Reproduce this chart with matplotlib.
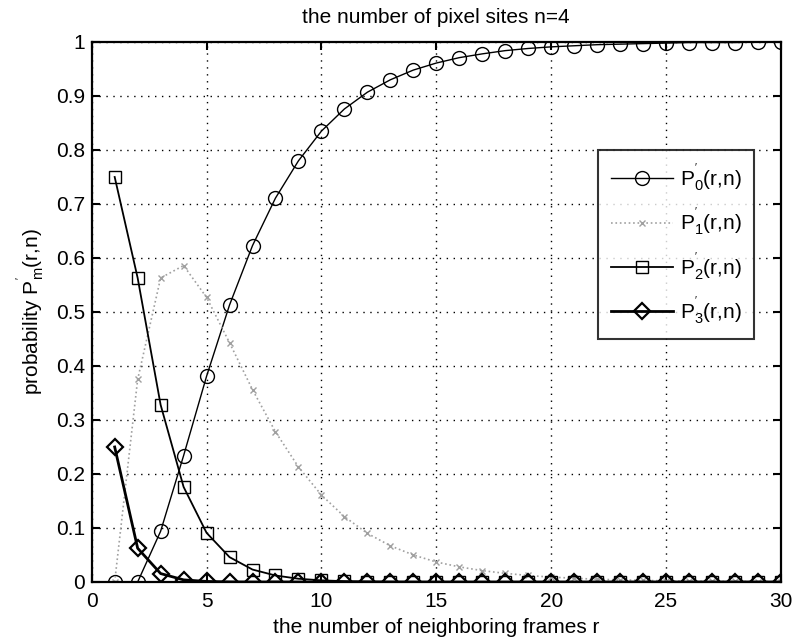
import matplotlib
matplotlib.use('Agg')
import matplotlib.pyplot as plt

plt.rcParams['font.family'] = ['Liberation Sans', 'DejaVu Sans']
plt.rcParams['mathtext.fontset'] = 'custom'
plt.rcParams['mathtext.rm'] = 'Liberation Sans'
plt.rcParams['mathtext.it'] = 'Liberation Sans'

# number of neighboring frames r
r = list(range(1, 31))

# values
p0 = [0.0, 0.0, 0.094, 0.234, 0.381, 0.513, 0.623, 0.711, 0.780, 0.835,
      0.876, 0.907, 0.930, 0.948, 0.961, 0.971, 0.978, 0.984, 0.988, 0.991,
      0.993, 0.995, 0.996, 0.997, 0.998, 0.999, 0.999, 0.999, 1.0, 1.0]
p1 = [0.0, 0.375, 0.563, 0.586, 0.527, 0.443, 0.356, 0.278, 0.213, 0.161,
      0.121, 0.090, 0.067, 0.050, 0.037, 0.028, 0.021, 0.016, 0.012, 0.009,
      0.007, 0.005, 0.004, 0.003, 0.002, 0.0015, 0.001, 0.001, 0.0007, 0.0005]
p2 = [0.75, 0.563, 0.328, 0.176, 0.091, 0.046, 0.023, 0.012, 0.006, 0.003,
      0.0015, 0.0008, 0.0004, 0.0002, 0.0001, 0.0, 0.0, 0.0, 0.0, 0.0,
      0.0, 0.0, 0.0, 0.0, 0.0, 0.0, 0.0, 0.0, 0.0, 0.0]
p3 = [0.25, 0.0625, 0.0156, 0.0039, 0.001, 0.0002, 0.0, 0.0, 0.0, 0.0,
      0.0, 0.0, 0.0, 0.0, 0.0, 0.0, 0.0, 0.0, 0.0, 0.0,
      0.0, 0.0, 0.0, 0.0, 0.0, 0.0, 0.0, 0.0, 0.0, 0.0]

labels = [r"P$_0^{'}$(r,n)", r"P$_1^{'}$(r,n)", r"P$_2^{'}$(r,n)", r"P$_3^{'}$(r,n)"]

fig = plt.figure(figsize=(7.94, 6.43), dpi=100)
ax = fig.add_axes([0.1155, 0.0949, 0.868, 0.8398])

ax.plot(r, p0, '-', color='black', lw=1.0, marker='o', ms=10, mfc='none', mew=1.0, label=labels[0])
ax.plot(r, p1, ':', color='#a0a0a0', lw=1.2, marker='x', ms=5, mew=1.0, label=labels[1])
ax.plot(r, p2, '-', color='black', lw=1.3, marker='s', ms=8, mfc='none', mew=1.0, label=labels[2])
ax.plot(r, p3, '-', color='black', lw=2.0, marker='D', ms=8, mfc='none', mew=1.6, label=labels[3])

ax.set_xlim(0, 30)
ax.set_ylim(0, 1)
ax.set_xticks([0, 5, 10, 15, 20, 25, 30])
ax.set_yticks([0, 0.1, 0.2, 0.3, 0.4, 0.5, 0.6, 0.7, 0.8, 0.9, 1])
ax.set_yticklabels(['0', '0.1', '0.2', '0.3', '0.4', '0.5', '0.6', '0.7', '0.8', '0.9', '1'])
ax.tick_params(direction='in', top=True, right=True, length=6, width=1.5, labelsize=15)
ax.tick_params(axis='x', pad=7)
ax.tick_params(axis='y', pad=5)
ax.grid(True, linestyle=(0, (1, 4)), color='black', lw=1.0)
for s in ax.spines.values():
    s.set_linewidth(1.6)

ax.set_title('the number of pixel sites n=4', fontsize=15, pad=14)
ax.set_xlabel('the number of neighboring frames r', fontsize=15, labelpad=5)
ax.set_ylabel(r"probability P$_m^{'}$(r,n)", fontsize=15, labelpad=6)

leg = ax.legend(loc='upper left', bbox_to_anchor=(0.735, 0.8), fontsize=15,
                frameon=True, fancybox=False, edgecolor='black', handlelength=3.0,
                labelspacing=0.6, borderpad=0.6, handletextpad=0.3, borderaxespad=0)
leg.get_frame().set_linewidth(1.5)

fig.savefig('out.png', dpi=100)
